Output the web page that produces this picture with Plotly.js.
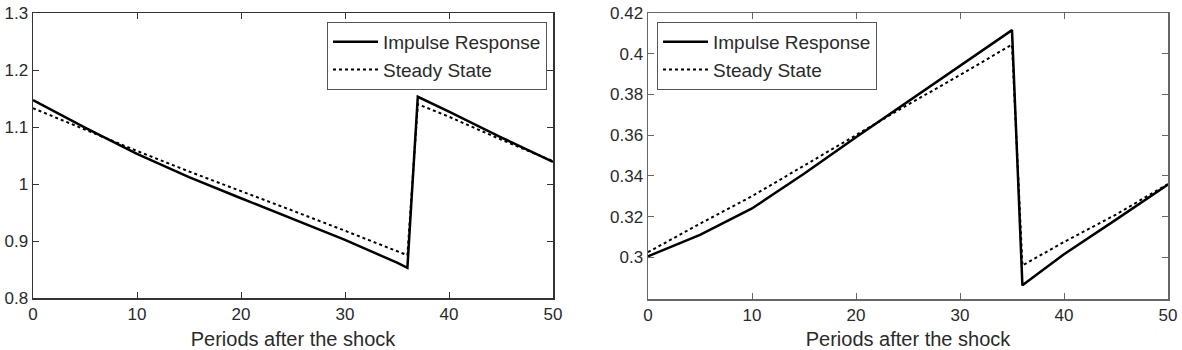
<!DOCTYPE html>
<html>
<head>
<meta charset="utf-8">
<script src="https://cdn.plot.ly/plotly-3.0.1.min.js"></script>
<style>
html,body{margin:0;padding:0;background:#fff;}
#chart{width:1182px;height:350px;}
</style>
</head>
<body>
<div id="chart"></div>
<script>
// Left panel
const leftX = [0, 5, 10, 15, 20, 25, 30, 35, 36, 37, 40, 45, 50];
const leftImpulse = [1.147, 1.099, 1.053, 1.012, 0.975, 0.939, 0.902, 0.862, 0.853, 1.153, 1.127, 1.082, 1.039];
const leftSteady  = [1.133, 1.095, 1.058, 1.022, 0.988, 0.953, 0.918, 0.882, 0.875, 1.140, 1.118, 1.078, 1.040];
// Right panel
const rightX = [0, 5, 10, 15, 20, 25, 30, 35, 36, 40, 45, 50];
const rightImpulse = [0.3005, 0.3110, 0.3240, 0.3410, 0.3590, 0.3765, 0.3938, 0.4116, 0.2862, 0.3015, 0.3185, 0.3357];
const rightSteady  = [0.3025, 0.3165, 0.3300, 0.3450, 0.3600, 0.3750, 0.3895, 0.4045, 0.2960, 0.3075, 0.3210, 0.3360];

const xTicks = [0, 10, 20, 30, 40, 50];
const leftYTicks = [0.8, 0.9, 1.0, 1.1, 1.2, 1.3];
const leftYText = ["0.8", "0.9", "1", "1.1", "1.2", "1.3"];
const rightYTicks = [0.30, 0.32, 0.34, 0.36, 0.38, 0.40, 0.42];
const rightYText = ["0.3", "0.32", "0.34", "0.36", "0.38", "0.4", "0.42"];
const names = ["Impulse Response", "Steady State"];
const xTitle = "Periods after the shock";

const FONT = "Liberation Sans, Arial, sans-serif";
const TXT = "#2a2a2a";

const traces = [
  {x: leftX, y: leftImpulse, name: names[0], xaxis: "x", yaxis: "y", mode: "lines",
   line: {color: "#000", width: 2.5}, legend: "legend"},
  {x: leftX, y: leftSteady, name: names[1], xaxis: "x", yaxis: "y", mode: "lines",
   line: {color: "#000", width: 2, dash: "dot"}, legend: "legend"},
  {x: rightX, y: rightImpulse, name: names[0], xaxis: "x2", yaxis: "y2", mode: "lines",
   line: {color: "#000", width: 2.5}, legend: "legend2"},
  {x: rightX, y: rightSteady, name: names[1], xaxis: "x2", yaxis: "y2", mode: "lines",
   line: {color: "#000", width: 2, dash: "dot"}, legend: "legend2"}
];

function xax(domain, anchor, col) {
  return {domain: domain, anchor: anchor, range: [0, 50], tickvals: xTicks,
    ticks: "inside", ticklen: 6, tickcolor: col, mirror: "ticks", showline: true,
    linecolor: col, linewidth: 1.5, showgrid: false, zeroline: false,
    tickfont: {family: FONT, size: 17, color: TXT},
    title: {text: xTitle, font: {family: FONT, size: 20, color: TXT}, standoff: 9},
    automargin: false};
}
function yax(domain, anchor, range, vals, txt, col) {
  return {domain: domain, anchor: anchor, range: range, tickvals: vals, ticktext: txt,
    ticks: "inside", ticklen: 6, tickcolor: col, mirror: "ticks", showline: true,
    linecolor: col, linewidth: 1.5, showgrid: false, zeroline: false,
    tickfont: {family: FONT, size: 17, color: TXT}, automargin: false};
}

const layout = {
  width: 1182, height: 350,
  margin: {l: 0, r: 0, t: 0, b: 0},
  paper_bgcolor: "#fff", plot_bgcolor: "#fff",
  showlegend: true,
  xaxis: xax([33/1182, 553/1182], "y", "#333"),
  yaxis: yax([1 - 298/350, 1 - 13/350], "x", [0.8, 1.3], leftYTicks, leftYText, "#333"),
  xaxis2: xax([648/1182, 1168/1182], "y2", "#666"),
  yaxis2: yax([1 - 299/350, 1 - 13/350], "x2", [0.2795, 0.42], rightYTicks, rightYText, "#666"),
  legend: {x: 547/1182, xanchor: "right", y: 1 - 22/350, yanchor: "top",
    bgcolor: "#fff", bordercolor: "#555", borderwidth: 1,
    font: {family: FONT, size: 19, color: TXT}, itemwidth: 45, tracegroupgap: 0},
  legend2: {x: 657/1182, xanchor: "left", y: 1 - 22/350, yanchor: "top",
    bgcolor: "#fff", bordercolor: "#555", borderwidth: 1,
    font: {family: FONT, size: 19, color: TXT}, itemwidth: 45, tracegroupgap: 0}
};

Plotly.newPlot("chart", traces, layout, {displayModeBar: false, staticPlot: true});
</script>
</body>
</html>
